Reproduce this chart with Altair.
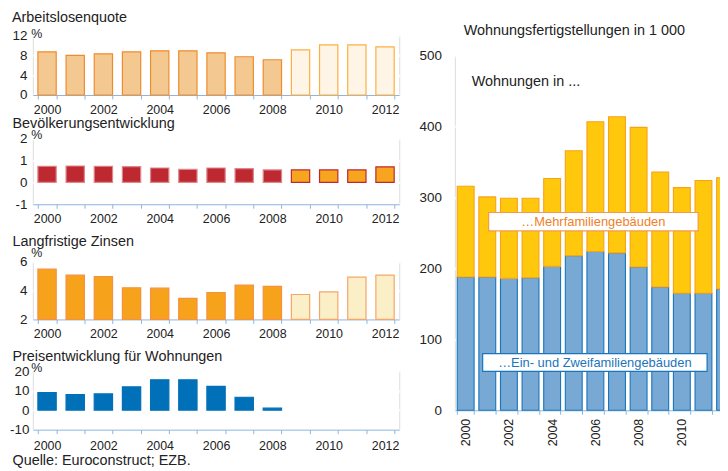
import altair as alt
import pandas as pd

# ---------------- data ----------------
years = list(range(2000, 2013))
prognose_ab = 2009

arbeitslosenquote = [8.7, 8.0, 8.3, 8.7, 8.9, 8.9, 8.5, 7.7, 7.1, 9.1, 10.1, 10.1, 9.7]
bevoelkerung = [0.74, 0.75, 0.74, 0.72, 0.66, 0.60, 0.66, 0.63, 0.57, 0.57, 0.57, 0.57, 0.71]
zinsen = [5.49, 5.08, 4.98, 4.20, 4.17, 3.46, 3.87, 4.38, 4.29, 3.73, 3.92, 4.94, 5.08]
preise = [9.0, 7.9, 8.3, 11.9, 15.5, 15.5, 12.2, 6.6, 1.0, None, None, None, None]

ein_zwei = [188, 188, 186, 187, 203, 218, 224, 222, 202, 174, 165, 165, 171]
mehrfamilien = [128, 113, 113, 112, 124, 148, 183, 192, 197, 162, 149, 159, 157]

typen = ["…Ein- und Zweifamiliengebäuden", "…Mehrfamiliengebäuden"]

FONT = "Liberation Sans"
BG = "#dfe7f3"
AXIS_BLUE = "#8db4de"
TXT = "#222222"
TITLE_SIZE = 14.5
MINUS = "replace(datum.label, '\u2212', '-')"


def left_panel(key, values, domain, tick_values, height, fills, strokes,
               next_title, next_title_y, pct_y, label_pad, base, year_pad=4.5):
    df = pd.DataFrame({
        "Jahr": years,
        "Wert": values,
        key: ["Ist" if y < prognose_ab else "Prognose" for y in years],
    }).dropna()
    x = alt.X("Jahr:O",
              scale=alt.Scale(domain=years, paddingInner=0.35, paddingOuter=0.18),
              axis=alt.Axis(tickBand="extent",
                            labelExpr="datum.value % 2 == 0 ? datum.label : ''",
                            labelAngle=0, labelFont=FONT, labelFontSize=12.5,
                            labelColor=TXT, labelPadding=year_pad,
                            domainColor=AXIS_BLUE, tickColor=AXIS_BLUE, tickSize=4,
                            title=next_title, titleX=-21, titleY=next_title_y,
                            titleAlign="left", titleBaseline="alphabetic",
                            titleFont=FONT, titleFontSize=TITLE_SIZE, titleFontWeight="normal",
                            titleColor=TXT))
    y = alt.Y("Wert:Q",
              scale=alt.Scale(domain=domain, nice=False, zero=False),
              axis=alt.Axis(values=tick_values, domain=False, ticks=False,
                            gridColor="white", gridWidth=2.5,
                            labelExpr=MINUS,
                            labelFont=FONT, labelFontSize=13.5, labelColor=TXT,
                            labelPadding=label_pad,
                            title="%", titleAngle=0, titleAlign="left",
                            titleX=-2, titleY=pct_y, titleBaseline="alphabetic",
                            titleFont=FONT, titleFontSize=12.5,
                            titleFontWeight="normal", titleColor=TXT))
    return alt.Chart(df).mark_bar(strokeWidth=1.2).encode(
        x=x,
        y=y,
        y2=alt.datum(base),
        fill=alt.Fill(f"{key}:N", scale=alt.Scale(domain=["Ist", "Prognose"], range=fills), legend=None),
        stroke=alt.Stroke(f"{key}:N", scale=alt.Scale(domain=["Ist", "Prognose"], range=strokes), legend=None),
    ).properties(width=369, height=height)


p1 = left_panel("P1", arbeitslosenquote, [0, 12], [0, 4, 8, 12], 60,
                ["#f3c991", "#fff5e6"], ["#f08b2d", "#fbb040"],
                "Bevölkerungsentwicklung", 33, 2, 6, 0).properties(
    title=alt.TitleParams("Arbeitslosenquote", anchor="start", frame="group", dx=-21,
                          offset=-9, baseline="alphabetic", font=FONT, fontSize=TITLE_SIZE,
                          fontWeight="normal", color=TXT))
p2 = left_panel("P2", bevoelkerung, [-1, 2], [-1, 0, 1, 2], 66,
                ["#be2831", "#f7a51f"], ["#e0868b", "#be2831"],
                "Langfristige Zinsen", 42, 0, 6, 0)
p3 = left_panel("P3", zinsen, [2, 6], [2, 4, 6], 58,
                ["#f7a21b", "#fbefc8"], ["#f5913f", "#f5a66a"],
                "Preisentwicklung für Wohnungen", 41, -5.5, 6, 2)
p4 = left_panel("P4", preise, [-10, 20], [-10, 0, 10, 20], 59,
                ["#0070b8", "#0070b8"], ["#0070b8", "#0070b8"],
                "Quelle: Euroconstruct; EZB.", 35, 0, 4, 0, year_pad=6)

left = alt.vconcat(p1, p2, p3, p4, spacing=-3).resolve_scale(
    fill="independent", stroke="independent")

# ---------------- right panel ----------------
rdf = pd.DataFrame({
    "Jahr": years * 2,
    "Wert": ein_zwei + mehrfamilien,
    "Typ": [typen[0]] * len(years) + [typen[1]] * len(years),
    "Ordnung": [0] * len(years) + [1] * len(years),
})

y_right = alt.Y("Wert:Q", stack="zero",
                scale=alt.Scale(domain=[0, 500], nice=False),
                axis=alt.Axis(values=[0, 100, 200, 300, 400, 500], domain=False, ticks=False,
                              gridColor="white", gridWidth=2.5,
                              labelFont=FONT, labelFontSize=13.5, labelColor=TXT,
                              labelPadding=13.5, title=None))

bars = alt.Chart(rdf).mark_bar(strokeWidth=1.1).encode(
    x=alt.X("Jahr:O",
            scale=alt.Scale(domain=years, paddingInner=0.22, paddingOuter=0.11),
            axis=alt.Axis(tickBand="extent", labelAngle=-90,
                          labelExpr="datum.value % 2 == 0 ? datum.label : ''",
                          labelFont=FONT, labelFontSize=12.5, labelColor=TXT,
                          labelPadding=4, domainColor=AXIS_BLUE, tickColor=AXIS_BLUE,
                          tickSize=4, title=None)),
    y=y_right,
    fill=alt.Fill("Typ:N", scale=alt.Scale(domain=typen, range=["#78a8d4", "#ffc80c"]), legend=None),
    stroke=alt.Stroke("Typ:N", scale=alt.Scale(domain=typen, range=["#1a75bb", "#f7a21b"]), legend=None),
    order=alt.Order("Ordnung:Q"),
)

intro = alt.Chart(pd.DataFrame({"t": ["Wohnungen in ..."]})).mark_text(
    align="left", baseline="alphabetic", font=FONT, fontSize=TITLE_SIZE, color=TXT
).encode(text="t:N", x=alt.value(17), y=alt.datum(458))

box_mehr = alt.Chart(pd.DataFrame({"t": [typen[1]]})).mark_rect(
    fill="white", stroke="#f39a4c", strokeWidth=1.2
).encode(x=alt.value(34), x2=alt.value(245), y=alt.datum(279), y2=alt.datum(253))
txt_mehr = alt.Chart(pd.DataFrame({"t": [typen[1]]})).mark_text(
    font=FONT, fontSize=13, color="#f07f2a", baseline="middle"
).encode(text="t:N", x=alt.value(139.5), y=alt.datum(266))

box_ein = alt.Chart(pd.DataFrame({"t": [typen[0]]})).mark_rect(
    fill="white", stroke="#1a75bb", strokeWidth=1.2
).encode(x=alt.value(28), x2=alt.value(254), y=alt.datum(80), y2=alt.datum(55))
txt_ein = alt.Chart(pd.DataFrame({"t": [typen[0]]})).mark_text(
    font=FONT, fontSize=13, color="#1a75bb", baseline="middle"
).encode(text="t:N", x=alt.value(141), y=alt.datum(67))

right_plot = alt.layer(bars, intro, box_mehr, txt_mehr, box_ein, txt_ein).properties(
    width=283, height=357)

# header cell carrying the right-hand title (aligned with the top of the left plots)
right_head = alt.Chart(pd.DataFrame({"t": [""]})).mark_point(opacity=0, size=1).encode(
    x=alt.value(1), y=alt.value(1)
).properties(
    width=283, height=8,
    view=alt.ViewBackground(fill="white", fillOpacity=0, strokeWidth=0),
    title=alt.TitleParams("Wohnungsfertigstellungen in 1 000", anchor="start",
                          frame="group", dx=9, baseline="alphabetic", offset=-14.5,
                          font=FONT, fontSize=TITLE_SIZE, fontWeight="normal", color=TXT))

right = alt.vconcat(right_head, right_plot, spacing=4.5)

chart = alt.concat(left, right, columns=2, spacing=18, align="none").resolve_scale(
    fill="independent", stroke="independent"
).properties(padding={"left": 0, "top": 0, "right": -17, "bottom": 0}
).configure_view(fill=BG, strokeWidth=0
).configure(font=FONT)

chart.save("out.html", embed_options={"renderer": "svg", "actions": False})
